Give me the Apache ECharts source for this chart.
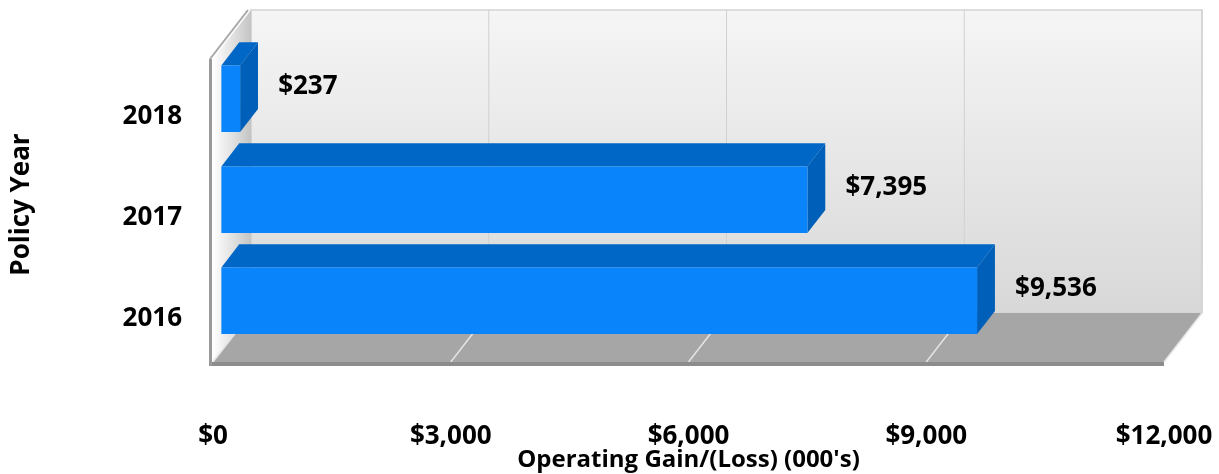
<!DOCTYPE html>
<html><head><meta charset="utf-8">
<script src="https://cdn.jsdelivr.net/npm/echarts@6/dist/echarts.min.js"></script>
<style>html,body{margin:0;padding:0;background:#fff}#c{width:1219px;height:474px}</style>
</head><body><div id="c"></div>
<script>
// ---- data ----
const categories = ['2016', '2017', '2018'];
const values = [9536, 7395, 237];
const xTicks = [0, 3000, 6000, 9000, 12000];
const xAxisTitle = "Operating Gain/(Loss) (000's)";
const yAxisTitle = 'Policy Year';

// ---- styling ----
const DX = 38, DY = -49;          // 3D depth offset of the chart box
const FONT_FAMILY = '"Open Sans", sans-serif';
const FS = 26;
function fmt(v) { return '$' + v.toLocaleString('en-US'); }

function renderBackdrop(params, api) {
  const cs = params.coordSys;
  const x0 = cs.x, x1 = cs.x + cs.width, y0 = cs.y, y1 = cs.y + cs.height;
  const ch = [];
  // back wall
  ch.push({ type: 'polygon', shape: { points: [[x0 + DX, y0 + DY], [x1 + DX, y0 + DY], [x1 + DX, y1 + DY], [x0 + DX, y1 + DY]] },
    style: { fill: new echarts.graphic.LinearGradient(0, 0, 0, 1, [{ offset: 0, color: '#f5f5f5' }, { offset: 1, color: '#d8d8d8' }]), stroke: '#d3d3d3', lineWidth: 1.5 } });
  // gridlines on back wall
  xTicks.forEach(function (t) {
    const px = api.coord([t, 0])[0];
    ch.push({ type: 'line', shape: { x1: px + DX, y1: y0 + DY, x2: px + DX, y2: y1 + DY }, style: { stroke: '#d0d0d0', lineWidth: 1 } });
  });
  // left wall
  ch.push({ type: 'polygon', shape: { points: [[x0, y0], [x0 + DX, y0 + DY], [x0 + DX, y1 + DY], [x0, y1]] },
    style: { fill: new echarts.graphic.LinearGradient(0, 0, 1, 0, [{ offset: 0, color: '#ffffff' }, { offset: 0.5, color: '#e2e2e2' }, { offset: 1, color: '#c4c4c4' }]) } });
  // floor
  ch.push({ type: 'polygon', shape: { points: [[x0, y1], [x0 + DX, y1 + DY], [x1 + DX, y1 + DY], [x1, y1]] },
    style: { fill: '#a6a6a6' } });
  xTicks.forEach(function (t) {
    const px = api.coord([t, 0])[0];
    ch.push({ type: 'line', shape: { x1: px + DX, y1: y1 + DY, x2: px, y2: y1 }, style: { stroke: '#e4e4e4', lineWidth: 1.5 } });
  });
  // wall / floor thickness edges
  ch.push({ type: 'rect', shape: { x: x0 - 4, y: y1, width: x1 - x0 + 4, height: 4 }, style: { fill: '#8c8c8c' } });
  ch.push({ type: 'rect', shape: { x: x0 - 4, y: y0, width: 3, height: y1 - y0 + 4 }, style: { fill: '#9a9a9a' } });
  ch.push({ type: 'line', shape: { x1: x0 - 3, y1: y0, x2: x0 - 3 + DX, y2: y0 + DY }, style: { stroke: '#a8a8a8', lineWidth: 2 } });
  return { type: 'group', children: ch };
}

function renderBar(params, api) {
  const v = api.value(0), ci = api.value(1);
  const p0 = api.coord([0, ci]), p1 = api.coord([v, ci]);
  const band = api.size([0, 1])[1];
  const h = band * 0.66;
  const fx = DX * 0.22, fy = DY * 0.22;
  const bx = DX * 0.47, by = DY * 0.47;
  const L = p0[0] + fx, R = p1[0] + fx, T = p0[1] + fy - h / 2, B = p0[1] + fy + h / 2;
  return { type: 'group', children: [
    { type: 'polygon', shape: { points: [[L, T], [R, T], [R + bx, T + by], [L + bx, T + by]] }, style: { fill: '#0067c6' } },
    { type: 'polygon', shape: { points: [[R, T], [R + bx, T + by], [R + bx, B + by], [R, B]] }, style: { fill: '#005fb8' } },
    { type: 'rect', shape: { x: L, y: T, width: R - L, height: h }, style: { fill: '#0984fb' } },
    { type: 'text', x: R + 38, y: p0[1] + fy - 12,
      style: { text: fmt(v), fill: '#000', fontFamily: FONT_FAMILY, fontWeight: 'bold', fontSize: FS, align: 'left', verticalAlign: 'middle' } }
  ] };
}

const chart = echarts.init(document.getElementById('c'), null, { renderer: 'canvas' });
chart.setOption({
  animation: false,
  backgroundColor: '#ffffff',
  grid: { left: 213, right: 55, top: 59, bottom: 112, containLabel: false, outerBoundsMode: 'none' },
  xAxis: {
    type: 'value', min: 0, max: 12000, interval: 3000,
    axisLine: { show: false }, axisTick: { show: false }, splitLine: { show: false },
    axisLabel: { formatter: fmt, color: '#000', fontFamily: FONT_FAMILY, fontWeight: 'bold', fontSize: FS, margin: 62 },
    name: xAxisTitle, nameLocation: 'middle', nameGap: 86, nameMoveOverlap: false,
    nameTextStyle: { color: '#000', fontFamily: FONT_FAMILY, fontWeight: 'bold', fontSize: 24 }
  },
  yAxis: {
    type: 'category', data: categories,
    axisLine: { show: false }, axisTick: { show: false }, splitLine: { show: false },
    axisLabel: {
      formatter: function (v) { return '{c|' + v + '}'; }, margin: 31,
      rich: { c: { color: '#000', fontFamily: FONT_FAMILY, fontWeight: 'bold', fontSize: FS, padding: [14, 0, 0, 0] } }
    },
    name: yAxisTitle, nameLocation: 'middle', nameGap: 178, nameRotate: 90, nameMoveOverlap: false,
    nameTextStyle: { color: '#000', fontFamily: FONT_FAMILY, fontWeight: 'bold', fontSize: 26, padding: [0, 0, 0, 12] }
  },
  series: [
    { type: 'custom', name: 'backdrop', z: 1, silent: true, renderItem: renderBackdrop, data: [[0, 0]], encode: { x: 0, y: 1 } },
    { type: 'custom', name: 'Operating Gain', z: 2, renderItem: renderBar,
      data: values.map(function (v, i) { return [v, i]; }), encode: { x: 0, y: 1 } }
  ]
});
</script>
</body></html>
